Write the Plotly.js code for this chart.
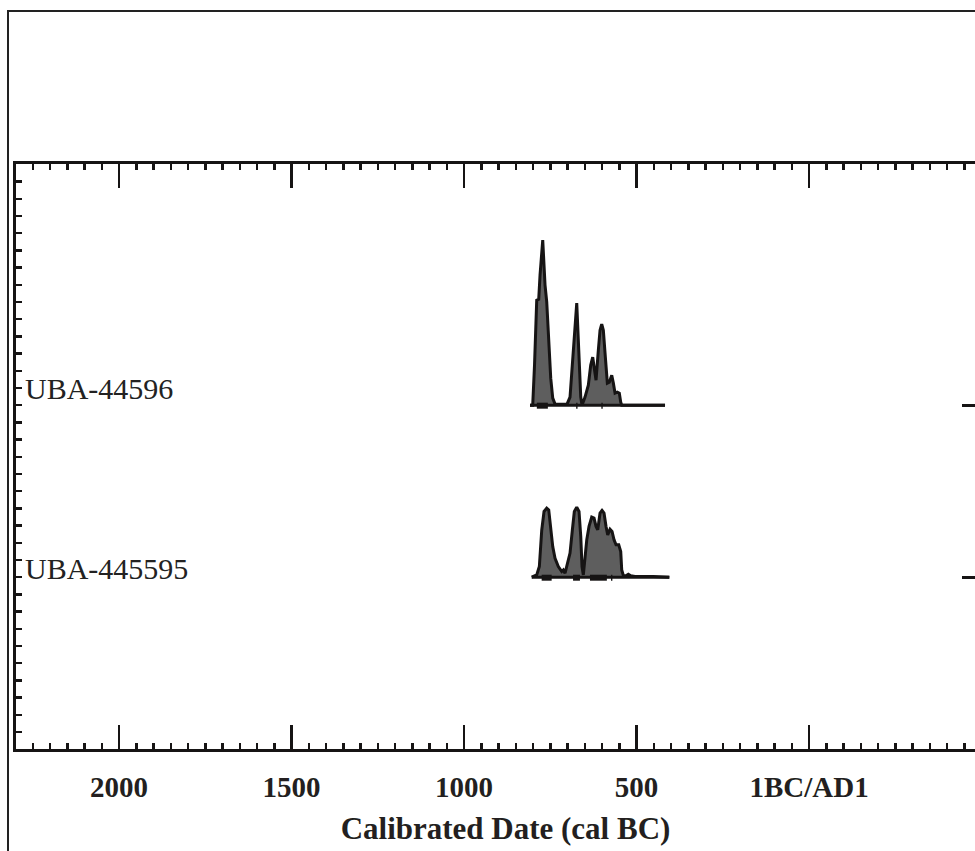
<!DOCTYPE html>
<html><head><meta charset="utf-8">
<script src="https://cdn.plot.ly/plotly-3.0.1.min.js"></script>
<style>
html,body{margin:0;padding:0;overflow:hidden;background:#fff;width:975px;height:851px}
#chart{position:absolute;left:0;top:0}
#frame{position:absolute;left:7px;top:10px;width:1100px;height:1000px;border-left:2.5px solid #222;border-top:2px solid #222;pointer-events:none}
</style></head><body>
<div id="chart"></div><div id="frame"></div>
<script>
// ---- data ----
const sampleNames = ["UBA-44596", "UBA-445595"];
const sampleBaselines = [19, 9];

// UBA-44596 probability distribution (cal BC, relative probability)
const yearsA = [808.7, 800.9, 795.7, 789.3, 783.5, 779.7, 771.9, 765.2, 760.3, 755.6, 748.7, 742.9, 736.2, 716.0, 701.4, 692.8, 683.2, 673.3, 667.5, 661.7, 658.0, 649.3, 639.7, 632.8, 627.0, 621.2, 617.4, 610.7, 605.8, 600.9, 596.2, 590.4, 584.6, 578.8, 571.9, 567.2, 562.3, 555.7, 549.9, 545.8, 542.9, 417.4];
const probA  = [0, 0, 2.33, 6.10, 6.16, 7.56, 9.60, 6.98, 6.00, 4.19, 1.57, 0.41, 0.06, 0.06, 0.06, 0.47, 3.20, 5.93, 3.20, 0.47, 0, 0.47, 1.16, 2.33, 2.79, 2.03, 1.45, 3.20, 4.36, 4.71, 4.36, 2.79, 1.28, 1.34, 1.74, 1.28, 0.70, 0.76, 0.70, 0.17, 0, 0];
const rangeStartA = [789, 675, 602];
const rangeEndA   = [757, 671, 598];

// UBA-445595 probability distribution
const yearsB = [803.8, 789.3, 781.7, 774.8, 768.1, 760.3, 754.5, 748.7, 742.9, 736.2, 726.7, 716.8, 712.2, 707.2, 700.6, 692.8, 686.1, 680.3, 673.3, 666.7, 661.7, 658.0, 654.2, 649.3, 644.3, 637.7, 629.9, 623.2, 617.4, 612.5, 605.8, 600.0, 594.2, 588.4, 583.5, 576.8, 571.0, 565.2, 559.4, 551.6, 545.8, 542.9, 538.3, 530.4, 523.8, 516.8, 504.3, 451.3, 405.0];
const probB  = [0, 0.13, 0.62, 2.73, 3.82, 4.01, 3.91, 2.73, 1.78, 1.10, 0.62, 0.33, 0.42, 0.23, 0.72, 1.40, 2.73, 3.82, 4.07, 3.82, 2.37, 0.62, 0.13, 1.01, 2.17, 2.95, 3.49, 3.43, 2.95, 2.75, 3.72, 3.88, 3.72, 2.95, 2.46, 2.79, 2.66, 2.17, 1.88, 1.88, 1.49, 0.42, 0.10, 0.08, 0.17, 0.08, 0.04, 0.04, 0];
const rangeStartB = [775, 684, 635, 574];
const rangeEndB   = [746, 664, 586, 570];

const tickVals = [2000, 1500, 1000, 500, 0];
const tickText = ["2000", "1500", "1000", "500", "1BC/AD1"];

// ---- styling ----
const ink = "#161414";
const serif = "'Liberation Serif', 'Times New Roman', serif";
const fillGrey = "#5e5e5e";

const series = [
  {years: yearsA, prob: probA, rs: rangeStartA, re: rangeEndA},
  {years: yearsB, prob: probB, rs: rangeStartB, re: rangeEndB}
];

const traces = [];
series.forEach((s, i) => {
  const base = sampleBaselines[i];
  traces.push({
    type: "scatter", mode: "lines", x: s.years, y: s.prob.map(p => base + p),
    fill: "toself", fillcolor: fillGrey, line: {color: ink, width: 3},
    hoverinfo: "skip", showlegend: false
  });
  traces.push({
    type: "scatter", mode: "lines", x: [s.years[0], s.years[s.years.length - 1]], y: [base, base],
    line: {color: ink, width: 3}, hoverinfo: "skip", showlegend: false
  });
  const rx = [], ry = [];
  s.rs.forEach((v, k) => { rx.push(v, s.re[k], null); ry.push(base - 0.03, base - 0.03, null); });
  traces.push({
    type: "scatter", mode: "lines", x: rx, y: ry,
    line: {color: ink, width: 6}, hoverinfo: "skip", showlegend: false
  });
});
// invisible trace on right axis
traces.push({type: "scatter", mode: "lines", x: [0], y: [0], yaxis: "y2", line: {width: 0}, hoverinfo: "skip", showlegend: false});

const yRange = [-0.988, 33.02];
const annotations = sampleNames.map((name, i) => ({
  text: name, xref: "paper", x: 0, xanchor: "left", xshift: 7,
  yref: "y", y: sampleBaselines[i], yanchor: "middle", yshift: [17, 9][i],
  showarrow: false, font: {family: serif, size: 30, color: "#222"}
}));

const layout = {
  width: 1005, height: 851,
  margin: {l: 16, r: 10, t: 164, b: 102},
  paper_bgcolor: "rgba(0,0,0,0)", plot_bgcolor: "#fff",
  showlegend: false,
  xaxis: {
    range: [2298.6, -539], tickmode: "array", tickvals: tickVals, ticktext: tickText,
    ticks: "inside", ticklen: 24, tickwidth: 2.5, tickcolor: ink,
    minor: {tickmode: "linear", tick0: 0, dtick: 50, ticks: "inside", ticklen: 6, tickwidth: 2.5, tickcolor: ink, showgrid: false},
    showline: true, linewidth: 3, linecolor: ink, mirror: "ticks",
    showgrid: false, zeroline: false,
    ticklabelstandoff: 10,
    tickfont: {family: serif, size: 29, color: "#231f20", weight: 700},
    title: {text: "Calibrated Date (cal BC)", standoff: 16, font: {family: serif, size: 31, color: "#231f20", weight: 700}}
  },
  yaxis: {
    range: yRange, tickmode: "linear", tick0: 0, dtick: 1,
    ticks: "inside", ticklen: 6, tickwidth: 2.5, tickcolor: ink,
    showticklabels: false, showline: true, linewidth: 3, linecolor: ink,
    showgrid: false, zeroline: false
  },
  yaxis2: {
    overlaying: "y", side: "right", range: yRange, tickmode: "array", tickvals: sampleBaselines,
    ticks: "inside", ticklen: 33, tickwidth: 3, tickcolor: ink,
    showticklabels: false, showline: true, linewidth: 3, linecolor: ink,
    showgrid: false, zeroline: false
  },
  annotations: annotations
};

Plotly.newPlot("chart", traces, layout, {staticPlot: true, displayModeBar: false});
</script>
</body></html>
